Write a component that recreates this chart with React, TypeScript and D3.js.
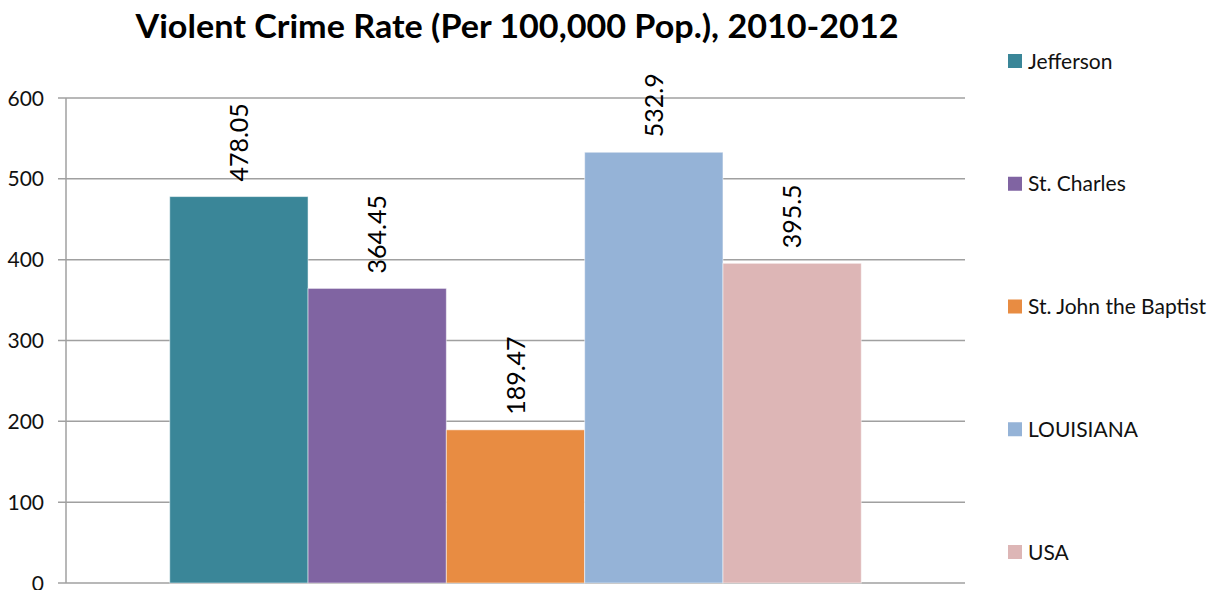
import * as d3 from "d3";

const W = 1222;
const H = 590;
const MARGIN = { top: 98, right: 257, bottom: 7, left: 66 };

const TITLE = "Violent Crime Rate (Per 100,000 Pop.), 2010-2012";
const CATEGORIES = ["2010-2012"];
const SERIES = ["Jefferson", "St. Charles", "St. John the Baptist", "LOUISIANA", "USA"];
const VALUES = [478.05, 364.45, 189.47, 532.9, 395.5];
const LABELS = ["478.05", "364.45", "189.47", "532.9", "395.5"];
const COLORS = ["#3A8698", "#8064A2", "#E88C42", "#95B3D7", "#DDB6B6"];
const Y_TICKS = [0, 100, 200, 300, 400, 500, 600];

const FONT = "Lato, 'Open Sans', sans-serif";

export default function App() {
  const x0 = d3
    .scaleBand<string>()
    .domain(CATEGORIES)
    .range([MARGIN.left, W - MARGIN.right])
    .paddingInner(0)
    .paddingOuter(0.15);

  const x1 = d3
    .scaleBand<string>()
    .domain(SERIES)
    .range([0, x0.bandwidth()])
    .padding(0);

  const y = d3
    .scaleLinear()
    .domain([0, 600])
    .range([H - MARGIN.bottom, MARGIN.top]);

  const legendY = d3
    .scalePoint<string>()
    .domain(SERIES)
    .range([61, 552]);

  return (
    <svg
      width={W}
      height={H}
      style={{ position: "absolute", left: 0, top: 0, background: "#fff" }}
      fontFamily={FONT}
    >
      {/* Title */}
      <text
        x={517}
        y={38}
        textAnchor="middle"
        fontSize={32}
        fontWeight="bold"
        fill="#000"
        textLength={763}
        lengthAdjust="spacingAndGlyphs"
      >
        {TITLE}
      </text>

      {/* Gridlines and y ticks */}
      {Y_TICKS.map((t) => (
        <g key={t}>
          <line
            x1={MARGIN.left - 8}
            x2={W - MARGIN.right}
            y1={y(t)}
            y2={y(t)}
            stroke="#A0A0A0"
            strokeWidth={1.5}
          />
          <text
            x={44}
            y={y(t)}
            dy="0.36em"
            textAnchor="end"
            fontSize={21}
            fill="#111"
          >
            {t}
          </text>
        </g>
      ))}

      {/* Y axis line */}
      <line
        x1={MARGIN.left}
        x2={MARGIN.left}
        y1={y(600)}
        y2={y(0)}
        stroke="#A0A0A0"
        strokeWidth={1.5}
      />

      {/* Bars */}
      {CATEGORIES.map((c) => (
        <g key={c} transform={`translate(${x0(c)},0)`}>
          {SERIES.map((s, i) => {
            const bx = x1(s) ?? 0;
            const bw = x1.bandwidth();
            const top = y(VALUES[i]);
            const cx = bx + bw / 2;
            const ly = top - 15;
            return (
              <g key={s}>
                <rect
                  x={bx}
                  y={top}
                  width={bw}
                  height={y(0) - top}
                  fill={COLORS[i]}
                  stroke="#ffffff"
                  strokeOpacity={0.5}
                  strokeWidth={1}
                />
                <text
                  transform={`translate(${cx},${ly}) rotate(-90)`}
                  dy="0.36em"
                  textAnchor="start"
                  fontSize={25}
                  fill="#000"
                >
                  {LABELS[i]}
                </text>
              </g>
            );
          })}
        </g>
      ))}

      {/* Legend */}
      {SERIES.map((s, i) => (
        <g key={s} transform={`translate(1008,${legendY(s)})`}>
          <rect x={0} y={-7} width={14} height={14} fill={COLORS[i]} />
          <text x={20} y={0} dy="0.36em" fontSize={21} fill="#111">
            {s}
          </text>
        </g>
      ))}
    </svg>
  );
}
